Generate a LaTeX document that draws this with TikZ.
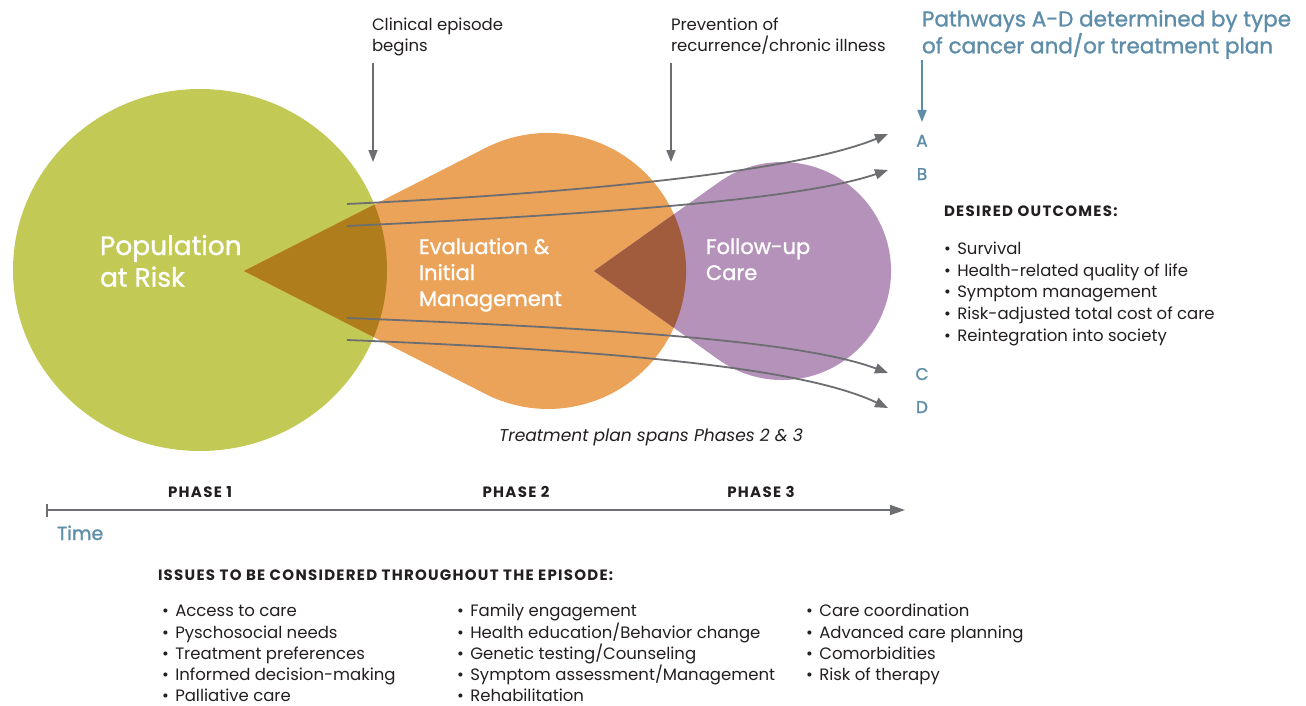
\documentclass[tikz,border=0pt]{standalone}
\usepackage{fontspec}
\setmainfont{Poppins}
\newfontfamily\medfont[FakeBold=1.2]{Poppins}
\newfontfamily\capsfont[LetterSpace=8.5]{Poppins}
\usetikzlibrary{arrows.meta}
\usetikzlibrary{positioning}

\definecolor{riskgreen}{HTML}{C2C955}
\definecolor{evalorange}{HTML}{EBA259}
\definecolor{carepurple}{HTML}{B592BA}
\definecolor{overlapgold}{HTML}{B07D1C}
\definecolor{overlapbrown}{HTML}{A15C3E}
\definecolor{cuegray}{HTML}{6D6E71}
\definecolor{pathblue}{HTML}{5E8DAA}
\definecolor{ink}{HTML}{231F20}

% the three phase shapes
\newcommand{\riskshape}{(200,270) ellipse[x radius=187, y radius=181]}
\newcommand{\evalshape}{(244,271) -- (485.4,148) arc[start angle=243, end angle=477, radius=138] -- cycle}
\newcommand{\careshape}{(594,271) -- (718.9,182.2) arc[start angle=234.6, end angle=485.4, radius=109] -- cycle}

\begin{document}
\begin{tikzpicture}[x=1pt,y=-1pt,
		every node/.style={inner sep=0pt,outer sep=0pt},
		phasetext/.style={anchor=base west,text=white,align=left,font=\medfont\fontsize{26.5}{31.7}\selectfont},
		cuetext/.style={anchor=base west,text=ink,align=left,font=\fontsize{16.5}{21.7}\selectfont},
		lettertext/.style={anchor=base,text=pathblue,font=\medfont\fontsize{17}{20}\selectfont},
		capstext/.style={text=ink,font=\capsfont\bfseries\fontsize{15}{18}\selectfont},
		listitem/.style={anchor=base west,text=ink,font=\fontsize{16.5}{20}\selectfont},
		cue/.style={draw=cuegray,line width=1.6pt,-{Triangle[length=12pt,width=9pt]}},
		pathway/.style={draw=cuegray,line width=1.8pt,-{Triangle[length=13pt,width=10pt]}}]
	\fill[white] (0,0) rectangle (1306,706);
	\useasboundingbox (0,0) rectangle (1306,706);

	% phases
	\fill[riskgreen] \riskshape;
	\fill[evalorange] \evalshape;
	\fill[carepurple] \careshape;
	\begin{scope}
		\clip \riskshape;
		\fill[overlapgold] \evalshape;
	\end{scope}
	\begin{scope}
		\clip \evalshape;
		\fill[overlapbrown] \careshape;
	\end{scope}
	% multi-line nodes sit on the baseline of their last line
	\node[phasetext] (risk) at (100,286.7) {Population\\at Risk};
	\node[phasetext,font=\medfont\fontsize{21}{26}\selectfont] (eval) at (419,306) {Evaluation \&\\Initial\\Management};
	\node[phasetext,font=\medfont\fontsize{21}{26}\selectfont] (care) at (706,280) {Follow-up\\Care};

	% cues at the top
	\node[cuetext] (clinical) at (372,52) {Clinical episode\\begins};
	\node[cuetext] (prevent) at (671,52) {Prevention of\\recurrence/chronic illness};
	\node[anchor=base west,text=pathblue,align=left,font=\medfont\fontsize{21.5}{23.3}\selectfont] (pathways) at (922,53.3) {Pathways A-D determined by type\\of cancer and/or treatment plan};
	\coordinate (clinicaltop) at (373,63);
	\coordinate (clinicaltip) at (373,162);
	\coordinate (preventtop) at (671,63);
	\coordinate (preventtip) at (671,162);
	\coordinate (pathtop) at (922,60);
	\coordinate (pathtip) at (922,122);
	\draw[cue] (clinicaltop) -- (clinicaltip);
	\draw[cue] (preventtop) -- (preventtip);
	\draw[cue,draw=pathblue] (pathtop) -- (pathtip);

	% pathways A-D
	\node[lettertext] (pA) at (922,146.7) {A};
	\node[lettertext] (pB) at (922,180) {B};
	\node[lettertext] (pC) at (922,380) {C};
	\node[lettertext] (pD) at (922,413) {D};
	\coordinate (a0) at (347,204);
	\coordinate (b0) at (347,226);
	\coordinate (c0) at (347,318);
	\coordinate (d0) at (347,340);
	\coordinate (a1) at (888,134);
	\coordinate (b1) at (888,170);
	\coordinate (c1) at (888,373);
	\coordinate (d1) at (888,408);
	\draw[pathway] (a0) .. controls (600,192) and (800,170) .. (a1);
	\draw[pathway] (b0) .. controls (600,214) and (800,200) .. (b1);
	\draw[pathway] (c0) .. controls (600,328) and (800,340) .. (c1);
	\draw[pathway] (d0) .. controls (600,350) and (800,366) .. (d1);
	\node[anchor=base,text=ink,font=\itshape\fontsize{17.1}{20}\selectfont] (plan) at (651,441) {Treatment plan spans Phases 2 \& 3};

	% time line
	\node[capstext,anchor=base] (ph1) at (200,497) {PHASE 1};
	\node[capstext,anchor=base] (ph2) at (516,497) {PHASE 2};
	\node[capstext,anchor=base] (ph3) at (761,497) {PHASE 3};
	\coordinate (tstart) at (47,510);
	\coordinate (tend) at (905,510);
	\draw[cuegray,line width=1.6pt] (47,503.5) -- (47,516.5);
	\draw[cue,-{Triangle[length=15pt,width=10pt]}] (tstart) -- (tend);
	\node[anchor=base west,text=pathblue,font=\medfont\fontsize{19}{22}\selectfont] (time) at (57,540) {Time};

	% outcomes
	\node[capstext,anchor=base west] (outhead) at (944,216) {DESIRED OUTCOMES:};
	\foreach \txt [count=\i] in {Survival,Health-related quality of life,Symptom management,Risk-adjusted total cost of care,Reintegration into society}
		\node[listitem] (out\i) at (944,232.6+21.7*\i) {\textbullet\kern6.5pt\txt};

	% issues
	\node[capstext,anchor=base west] (issuehead) at (158,580.7) {ISSUES TO BE CONSIDERED THROUGHOUT THE EPISODE:};
	\foreach \txt [count=\i] in {Access to care,Pyschosocial needs,Treatment preferences,Informed decision-making,Palliative care}
		\node[listitem] (issueA\i) at (162,595.4+21.3*\i) {\textbullet\kern6.5pt\txt};
	\foreach \txt [count=\i] in {Family engagement,Health education/Behavior change,Genetic testing/Counseling,Symptom assessment/Management,Rehabilitation}
		\node[listitem] (issueB\i) at (457,595.4+21.3*\i) {\textbullet\kern6.5pt\txt};
	\foreach \txt [count=\i] in {Care coordination,Advanced care planning,Comorbidities,Risk of therapy}
		\node[listitem] (issueC\i) at (806,595.4+21.3*\i) {\textbullet\kern6.5pt\txt};
\end{tikzpicture}
\end{document}
